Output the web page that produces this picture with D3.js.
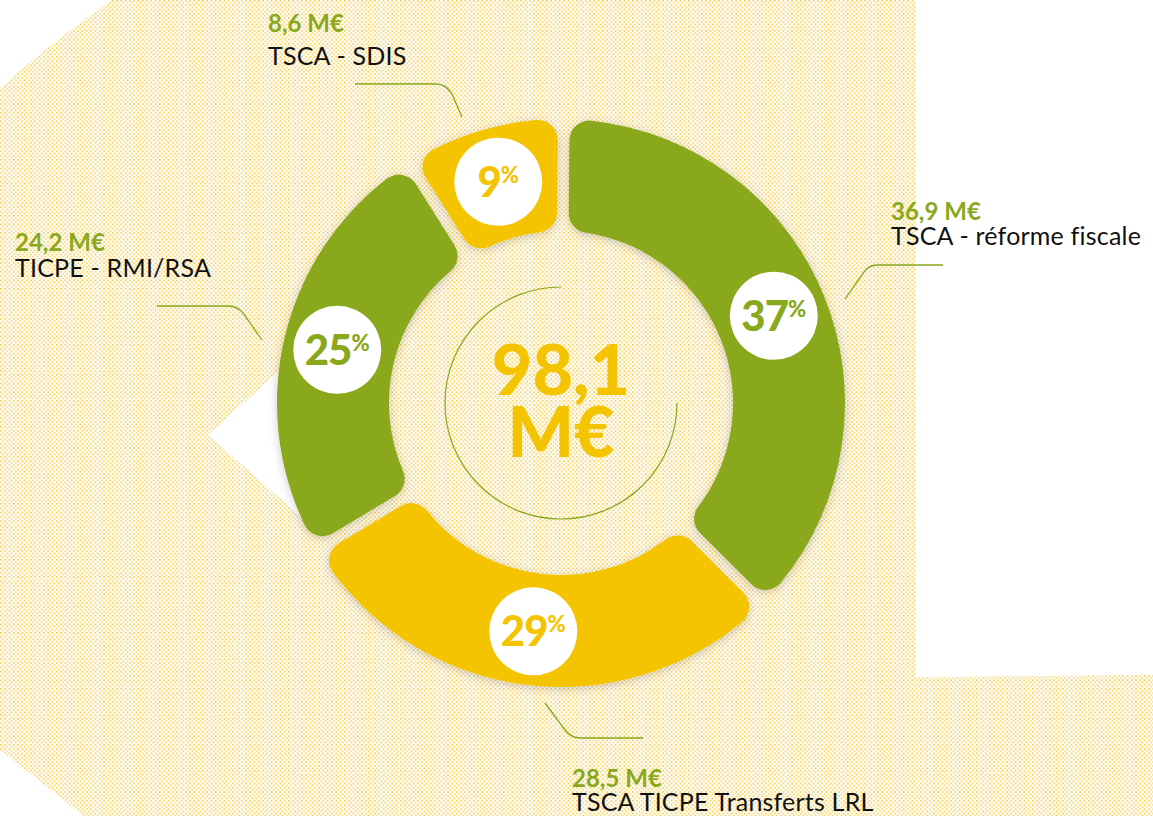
<!DOCTYPE html>
<html>
<head>
<meta charset="utf-8">
<script src="https://cdn.jsdelivr.net/npm/d3@7"></script>
<style>
  html, body { margin: 0; padding: 0; background: #ffffff; }
  svg { display: block; }
</style>
</head>
<body>
<svg id="chart" width="1153" height="816"></svg>
<script>
// ---- DATA ----
const categories = ["TSCA - réforme fiscale", "TSCA TICPE Transferts LRL", "TICPE - RMI/RSA", "TSCA - SDIS"];
const values = [36.9, 28.5, 24.2, 8.6];
const valueLabels = ["36,9 M€", "28,5 M€", "24,2 M€", "8,6 M€"];
const percents = [37, 29, 25, 9];
const totalLabel = ["98,1", "M€"];

// ---- STYLE / LAYOUT ----
const GREEN = "#89A81B";
const YELLOW = "#F5C400";
const segColors = [GREEN, YELLOW, GREEN, YELLOW];
const pctColors = [GREEN, YELLOW, GREEN, YELLOW];
const cx = 561, cy = 403;
const rOuter = 284, rInner = 172, rLabel = 230;

const labelLayout = [
  {x: 891, vy: 220, ly: 245, line: "M943,265 H877 Q869,265 864,272 L845,299"},
  {x: 572, vy: 787, ly: 811, line: "M545,703 L565,730 Q571,738 580,738 H643"},
  {x: 15,  vy: 251, ly: 277, line: "M157,306 H228 Q237,306 243,313 L262,340"},
  {x: 268, vy: 32,  ly: 65,  line: "M355,84 H436 Q446,84 452,94 L462,117"}
];

const svg = d3.select("#chart");
const defs = svg.append("defs");

const pat = defs.append("pattern").attr("id", "dots")
  .attr("patternUnits", "userSpaceOnUse").attr("width", 4.3).attr("height", 4.3);
pat.append("rect").attr("x", 0).attr("y", 0).attr("width", 1.6).attr("height", 1.6).attr("fill", "#F7C633").attr("opacity", 0.9);
pat.append("rect").attr("x", 2.15).attr("y", 2.15).attr("width", 1.6).attr("height", 1.6).attr("fill", "#F7C633").attr("opacity", 0.9);

const shadow = defs.append("filter").attr("id", "shadow")
  .attr("x", "-20%").attr("y", "-20%").attr("width", "140%").attr("height", "140%");
shadow.append("feDropShadow").attr("dx", 0).attr("dy", 2).attr("stdDeviation", 5)
  .attr("flood-color", "#000").attr("flood-opacity", 0.2);

// background dotted shape
svg.append("path")
  .attr("d", "M112,0 L916,0 L916,677 L1153,675 L1153,816 L84,816 L0,750 L0,88 L30,62 L60,38 Z")
  .attr("fill", "url(#dots)");

// white pointer on the left
svg.append("path")
  .attr("d", "M208,435 L300,352 L300,516 Z")
  .attr("fill", "#ffffff");

// donut
const pie = d3.pie().value(d => d).sort(null).startAngle(0.01).endAngle(2 * Math.PI + 0.01).padAngle(0.035);
const arcs = pie(values);
const arc = d3.arc().innerRadius(rInner).outerRadius(rOuter).cornerRadius(20);
const labelArc = d3.arc().innerRadius(rLabel).outerRadius(rLabel);

const g = svg.append("g").attr("transform", `translate(${cx},${cy})`);

g.selectAll("path.seg").data(arcs).enter().append("path")
  .attr("class", "seg")
  .attr("d", arc)
  .attr("fill", (d, i) => segColors[i])
  .attr("filter", "url(#shadow)");

// thin inner circle arc
g.append("path")
  .attr("d", d3.arc().innerRadius(116).outerRadius(116)({startAngle: Math.PI / 2, endAngle: 2 * Math.PI}))
  .attr("fill", "none").attr("stroke", GREEN).attr("stroke-width", 1.2);

// percent bubbles
const bub = g.selectAll("g.bub").data(arcs).enter().append("g")
  .attr("class", "bub")
  .attr("transform", d => { const c = labelArc.centroid(d); return `translate(${c[0]},${c[1]})`; });
bub.append("circle").attr("r", 44).attr("fill", "#ffffff");
const pt = bub.append("text")
  .attr("text-anchor", "middle")
  .attr("y", 15)
  .attr("font-family", "Lato, 'Noto Sans', sans-serif")
  .attr("font-weight", 900)
  .attr("fill", (d, i) => pctColors[i]);
pt.append("tspan").attr("font-size", 42).attr("letter-spacing", -1).text((d, i) => percents[i]);
pt.append("tspan").attr("font-size", 22).attr("dy", -14).text("%");

// center total
const ct = g.append("text")
  .attr("text-anchor", "middle")
  .attr("font-family", "Lato, 'Noto Sans', sans-serif")
  .attr("font-weight", 900)
  .attr("fill", YELLOW)
  .attr("font-size", 70);
ct.append("tspan").attr("x", 0).attr("y", -8).text(totalLabel[0]);
ct.append("tspan").attr("x", 0).attr("y", 54).text(totalLabel[1]);

// leader lines & labels
const lab = svg.selectAll("g.lab").data(categories).enter().append("g").attr("class", "lab");
lab.append("path")
  .attr("d", (d, i) => labelLayout[i].line)
  .attr("fill", "none").attr("stroke", GREEN).attr("stroke-width", 1.3);
lab.append("text")
  .attr("x", (d, i) => labelLayout[i].x)
  .attr("y", (d, i) => labelLayout[i].vy)
  .attr("font-family", "Lato, 'Noto Sans', sans-serif")
  .attr("font-weight", 700)
  .attr("font-size", 24)
  .attr("fill", GREEN)
  .text((d, i) => valueLabels[i]);
lab.append("text")
  .attr("x", (d, i) => labelLayout[i].x)
  .attr("y", (d, i) => labelLayout[i].ly)
  .attr("font-family", "Lato, 'Noto Sans', sans-serif")
  .attr("font-weight", 400)
  .attr("font-size", 25)
  .attr("letter-spacing", 0.2)
  .attr("fill", "#111111")
  .text(d => d);
</script>
</body>
</html>
